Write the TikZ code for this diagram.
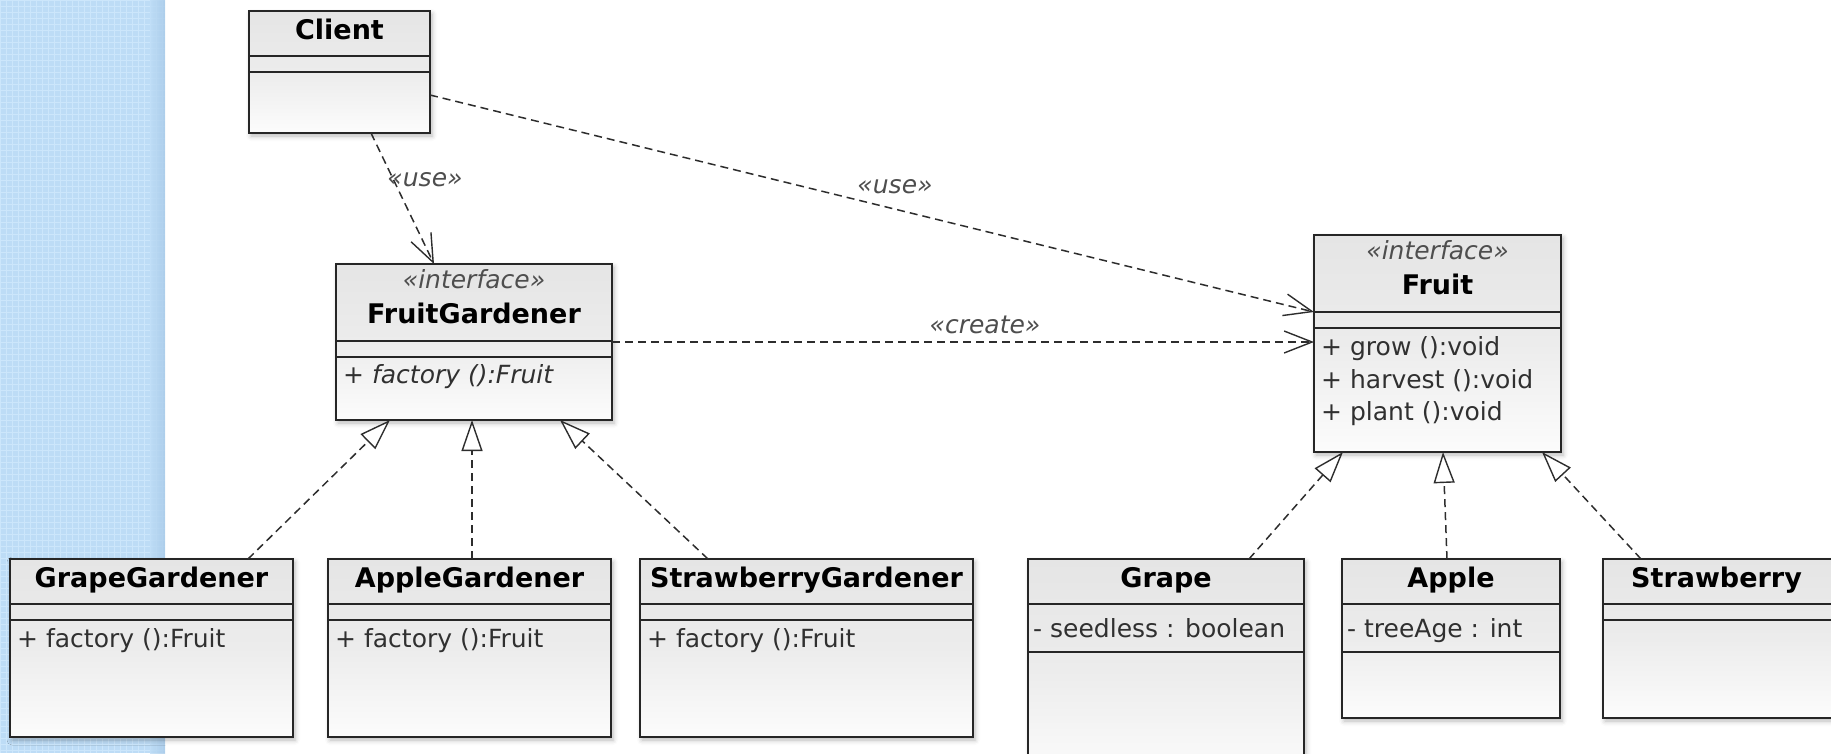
\documentclass[tikz,border=0pt]{standalone}
\usepackage{fontspec}
\setmainfont{DejaVu Sans}
\usetikzlibrary{arrows.meta,shadows.blur}

\definecolor{panelblue}{RGB}{189,220,246}
\definecolor{panelgrid}{RGB}{204,230,251}
\definecolor{paneledge}{RGB}{168,202,232}
\definecolor{boxline}{RGB}{38,38,38}
\definecolor{boxtop}{RGB}{229,229,229}
\definecolor{boxmid}{RGB}{236,236,236}
\definecolor{boxbot}{RGB}{252,252,252}
\definecolor{bodytext}{RGB}{48,48,48}
\definecolor{stereo}{RGB}{78,78,78}
\definecolor{wireline}{RGB}{45,45,45}

\tikzset{
  classbox/.style={rectangle, draw=boxline, line width=1.4pt, inner sep=0pt, outer sep=0pt,
    anchor=north west, top color=boxtop, bottom color=boxbot, middle color=boxmid,
    blur shadow={shadow xshift=2pt, shadow yshift=-3pt, shadow blur radius=5pt, shadow opacity=28}},
  sepline/.style={draw=boxline, line width=1.4pt},
  titletext/.style={font=\fontsize{27}{32}\selectfont\bfseries, text=black, inner sep=0pt, anchor=base},
  membertext/.style={font=\fontsize{25}{30}\selectfont, text=bodytext, inner sep=0pt, anchor=base west},
  stereotext/.style={font=\fontsize{25}{30}\selectfont\itshape, text=stereo, inner sep=0pt, anchor=base},
  wire/.style={draw=wireline, line width=1.5pt, dash pattern=on 8pt off 5pt},
  usedep/.style={wire, -{Straight Barb[length=28pt, width=22pt, line width=1.4pt]}},
  realize/.style={wire, -{Triangle[length=31pt, width=21pt, line width=1.4pt, fill=white]}}
}

\begin{document}
\begin{tikzpicture}[x=1pt, y=-1pt]
\useasboundingbox (0,0) rectangle (1831,753);

% textured side panel
\fill[panelblue] (0,0) rectangle (165,753);
\draw[panelgrid, line width=1pt, step=6pt] (0,0) grid (165,753);
\shade[left color=panelblue, right color=paneledge, opacity=0.8] (150,0) rectangle (165,753);

% ---- classes ----
\node[classbox, minimum width=181pt, minimum height=122pt] (client) at (249,11) {};
\draw[sepline] (client.west |- 0,56) -- (client.east |- 0,56);
\draw[sepline] (client.west |- 0,72) -- (client.east |- 0,72);
\node[titletext] (clientT) at (339.5,39) {Client};

\node[classbox, minimum width=276pt, minimum height=156pt] (fg) at (336,264) {};
\draw[sepline] (fg.west |- 0,341) -- (fg.east |- 0,341);
\draw[sepline] (fg.west |- 0,357) -- (fg.east |- 0,357);
\node[stereotext] (fgS) at (474,288) {«interface»};
\node[titletext] (fgT) at (474,323) {FruitGardener};
\node[membertext] (fgM) at (343,383) {+ \itshape factory ():Fruit};

\node[classbox, minimum width=247pt, minimum height=217pt] (fruit) at (1314,235) {};
\draw[sepline] (fruit.west |- 0,312) -- (fruit.east |- 0,312);
\draw[sepline] (fruit.west |- 0,328) -- (fruit.east |- 0,328);
\node[stereotext] (fruitS) at (1437.5,259) {«interface»};
\node[titletext] (fruitT) at (1437.5,294) {Fruit};
\node[membertext] (fruitM1) at (1321,355) {+ grow ():void};
\node[membertext] (fruitM2) at (1321,388) {+ harvest ():void};
\node[membertext] (fruitM3) at (1321,420) {+ plant ():void};

\node[classbox, minimum width=283pt, minimum height=178pt] (gg) at (10,559) {};
\draw[sepline] (gg.west |- 0,604) -- (gg.east |- 0,604);
\draw[sepline] (gg.west |- 0,620) -- (gg.east |- 0,620);
\node[titletext] (ggT) at (151.5,587) {GrapeGardener};
\node[membertext] (ggM) at (17,647) {+ factory ():Fruit};

\node[classbox, minimum width=283pt, minimum height=178pt] (ag) at (328,559) {};
\draw[sepline] (ag.west |- 0,604) -- (ag.east |- 0,604);
\draw[sepline] (ag.west |- 0,620) -- (ag.east |- 0,620);
\node[titletext] (agT) at (469.5,587) {AppleGardener};
\node[membertext] (agM) at (335,647) {+ factory ():Fruit};

\node[classbox, minimum width=333pt, minimum height=178pt] (sg) at (640,559) {};
\draw[sepline] (sg.west |- 0,604) -- (sg.east |- 0,604);
\draw[sepline] (sg.west |- 0,620) -- (sg.east |- 0,620);
\node[titletext] (sgT) at (806.5,587) {StrawberryGardener};
\node[membertext] (sgM) at (647,647) {+ factory ():Fruit};

\node[classbox, minimum width=276pt, minimum height=222pt] (grape) at (1028,559) {};
\draw[sepline] (grape.west |- 0,604) -- (grape.east |- 0,604);
\draw[sepline] (grape.west |- 0,652) -- (grape.east |- 0,652);
\node[titletext] (grapeT) at (1166,587) {Grape};
\node[membertext] (grapeA) at (1033,637) {- seedless : boolean};

\node[classbox, minimum width=218pt, minimum height=159pt] (apple) at (1342,559) {};
\draw[sepline] (apple.west |- 0,604) -- (apple.east |- 0,604);
\draw[sepline] (apple.west |- 0,652) -- (apple.east |- 0,652);
\node[titletext] (appleT) at (1451,587) {Apple};
\node[membertext] (appleA) at (1347,637) {- treeAge : int};

\node[classbox, minimum width=236pt, minimum height=159pt] (straw) at (1603,559) {};
\draw[sepline] (straw.west |- 0,604) -- (straw.east |- 0,604);
\draw[sepline] (straw.west |- 0,620) -- (straw.east |- 0,620);
\node[titletext] (strawT) at (1716.5,587) {Strawberry};

% ---- dependencies ----
\draw[usedep] (client.south -| 371,0) -- (fg.north -| 434,0);
\node[stereotext, anchor=center] (useA) at (425,180) {«use»};
\draw[usedep] (client.east |- 0,95) -- (fruit.west |- 0,312);
\node[stereotext, anchor=center] (useB) at (895,187) {«use»};
\draw[usedep] (fg.east |- 0,342) -- (fruit.west |- 0,342);
\node[stereotext, anchor=center] (createL) at (985,325) {«create»};

% ---- realizations ----
\draw[realize] (gg.north -| 248,0) -- (fg.south -| 390,0);
\draw[realize] (ag.north -| 472,0) -- (fg.south -| 472,0);
\draw[realize] (sg.north -| 708,0) -- (fg.south -| 560,0);
\draw[realize] (grape.north -| 1249,0) -- (fruit.south -| 1343,0);
\draw[realize] (apple.north -| 1447,0) -- (fruit.south -| 1443,0);
\draw[realize] (straw.north -| 1641,0) -- (fruit.south -| 1542,0);
\end{tikzpicture}
\end{document}
